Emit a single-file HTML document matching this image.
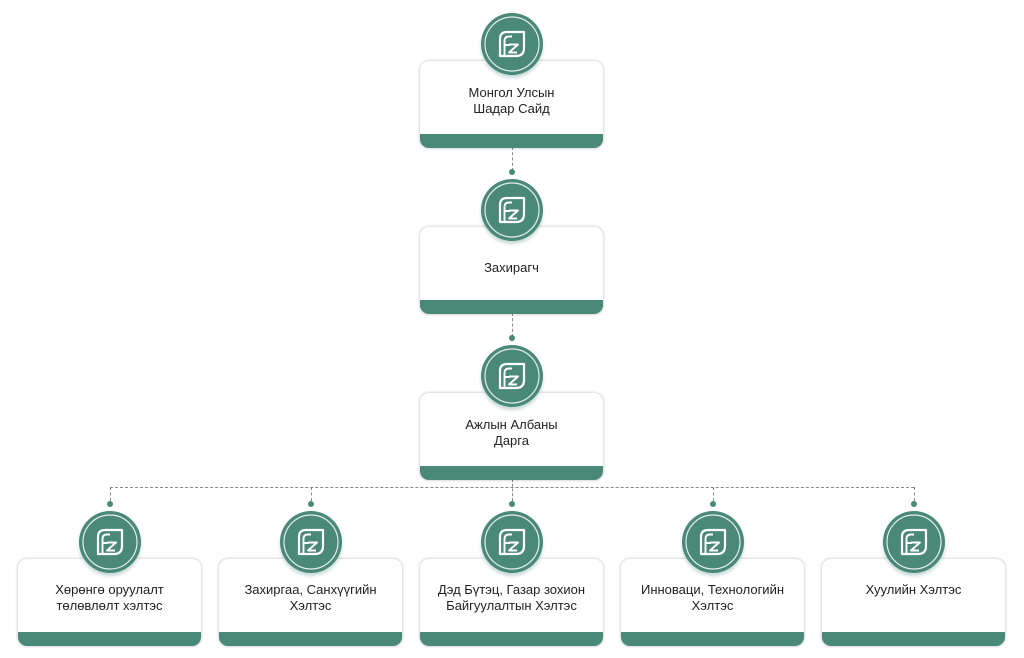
<!DOCTYPE html>
<html><head><meta charset="utf-8"><style>
body{margin:0;width:1024px;height:658px;background:#fff;position:relative;overflow:hidden;font-family:"Liberation Sans",sans-serif;}
.card{position:absolute;width:183px;height:87px;background:#fff;border-radius:9px;box-shadow:0 0 2px 1px rgba(0,0,0,0.16);overflow:hidden;}
.card .band{position:absolute;left:0;right:0;bottom:0;height:14px;background:#4a8878;}
.card .t{position:absolute;left:0;right:0;top:23px;text-align:center;font-size:13px;line-height:16px;color:#222;}
.circ{position:absolute;width:62px;height:62px;border-radius:50%;background:#4a8878;box-shadow:0 3px 3px rgba(74,136,120,0.3);}
.circ svg{position:absolute;left:0;top:0}
.dot{position:absolute;width:6px;height:6px;border-radius:50%;background:#4a8878;}
.v{position:absolute;width:0;border-left:1px dashed #888;}
.h{position:absolute;height:0;border-top:1px dashed #888;}
</style></head><body>

<div class="v" style="left:512px;top:147px;height:24px"></div>
<div class="dot" style="left:509px;top:169px"></div>
<div class="v" style="left:512px;top:313px;height:24px"></div>
<div class="dot" style="left:509px;top:335px"></div>
<div class="v" style="left:512px;top:479px;height:22px"></div>
<div class="h" style="left:110px;top:487px;width:804px"></div>
<div class="v" style="left:110px;top:487px;height:14px"></div>
<div class="v" style="left:311px;top:487px;height:14px"></div>
<div class="v" style="left:713px;top:487px;height:14px"></div>
<div class="v" style="left:914px;top:487px;height:14px"></div>
<div class="dot" style="left:107px;top:501px"></div>
<div class="dot" style="left:308px;top:501px"></div>
<div class="dot" style="left:509px;top:501px"></div>
<div class="dot" style="left:710px;top:501px"></div>
<div class="dot" style="left:911px;top:501px"></div>

<div class="card" style="left:420px;top:61px"><div class="t" style="top:24px">Монгол Улсын<br>Шадар Сайд</div><div class="band"></div></div>
<div class="card" style="left:420px;top:227px"><div class="t" style="top:33px">Захирагч</div><div class="band"></div></div>
<div class="card" style="left:420px;top:393px"><div class="t" style="top:24px">Ажлын Албаны<br>Дарга</div><div class="band"></div></div>
<div class="card" style="left:18px;top:559px"><div class="t">Хөрөнгө оруулалт<br>төлөвлөлт хэлтэс</div><div class="band"></div></div>
<div class="card" style="left:219px;top:559px"><div class="t">Захиргаа, Санхүүгийн<br>Хэлтэс</div><div class="band"></div></div>
<div class="card" style="left:420px;top:559px"><div class="t">Дэд Бүтэц, Газар зохион<br>Байгуулалтын Хэлтэс</div><div class="band"></div></div>
<div class="card" style="left:621px;top:559px"><div class="t">Инноваци, Технологийн<br>Хэлтэс</div><div class="band"></div></div>
<div class="card" style="left:822px;top:559px"><div class="t">Хуулийн Хэлтэс</div><div class="band"></div></div>

<svg width="0" height="0" style="position:absolute"><defs>
<g id="ic">
<circle cx="31" cy="31" r="27" fill="none" stroke="#fff" stroke-width="1.2" opacity="0.85"/>
<path d="M19 43 V26 Q19 19 26 19 H43 V35 Q43 43 35 43 Z" fill="none" stroke="#fff" stroke-width="2.2" stroke-linejoin="round"/>
<path d="M23.5 43 V28 Q23.5 23.5 28 23.5 H31 M23.5 32 H29 M28 31.5 L37 31.5 L28 39.5 H36" fill="none" stroke="#fff" stroke-width="1.9" stroke-linejoin="round"/>
</g></defs></svg>

<div class="circ" style="left:481px;top:13px"><svg width="62" height="62"><use href="#ic"/></svg></div>
<div class="circ" style="left:481px;top:179px"><svg width="62" height="62"><use href="#ic"/></svg></div>
<div class="circ" style="left:481px;top:345px"><svg width="62" height="62"><use href="#ic"/></svg></div>
<div class="circ" style="left:79px;top:511px"><svg width="62" height="62"><use href="#ic"/></svg></div>
<div class="circ" style="left:280px;top:511px"><svg width="62" height="62"><use href="#ic"/></svg></div>
<div class="circ" style="left:481px;top:511px"><svg width="62" height="62"><use href="#ic"/></svg></div>
<div class="circ" style="left:682px;top:511px"><svg width="62" height="62"><use href="#ic"/></svg></div>
<div class="circ" style="left:883px;top:511px"><svg width="62" height="62"><use href="#ic"/></svg></div>

</body></html>
